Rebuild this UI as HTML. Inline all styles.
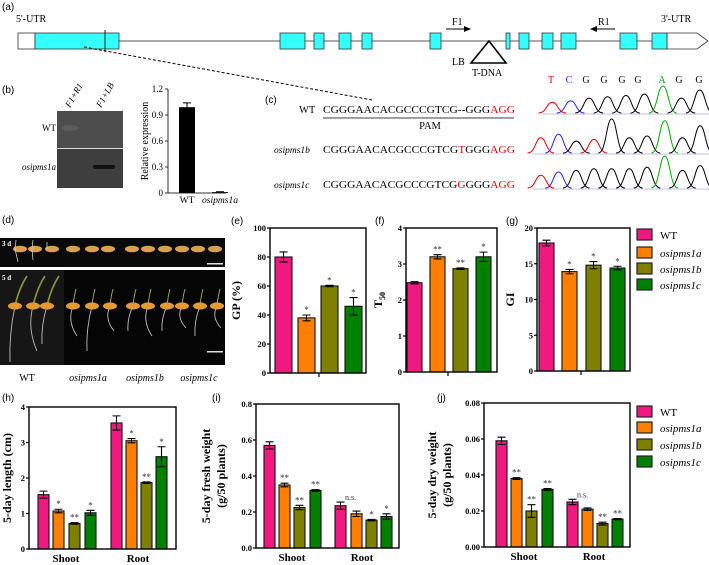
<!DOCTYPE html>
<html><head><meta charset="utf-8"><style>
body{margin:0;background:#fff;}
svg{display:block;font-family:"Liberation Serif",serif;}
.tk{font-size:8.5px;font-weight:bold;}
.lab{font-family:"Liberation Sans",sans-serif;font-size:10px;}
.it{font-style:italic;}
</style></head><body>
<svg id="fig" width="709" height="565" viewBox="0 0 709 565" xmlns="http://www.w3.org/2000/svg">
<!-- (a) gene structure -->
<g>
<text class="lab" x="2" y="10">(a)</text>
<text x="16" y="22" font-size="10">5'-UTR</text>
<text x="661" y="22" font-size="10">3'-UTR</text>
<line x1="18" y1="41" x2="690" y2="41" stroke="#555" stroke-width="1"/>
<rect x="18" y="33" width="17" height="16" fill="#fff" stroke="#333" stroke-width="0.8"/>
<rect x="35" y="33" width="84" height="16" fill="#33ffff" stroke="#333" stroke-width="0.8"/>
<line x1="105" y1="30" x2="105" y2="52" stroke="#222"/>
<g id="exons" fill="#33ffff" stroke="#333" stroke-width="0.8"></g>
<path d="M667 33 L697 33 L708 41 L697 49 L667 49 Z" fill="#fff" stroke="#333" stroke-width="0.8"/>
<rect x="652" y="33" width="15" height="16" fill="#33ffff" stroke="#333" stroke-width="0.8"/>
<text x="452" y="25" font-size="10">F1</text>
<path d="M446 29 L466 29" stroke="#000"/><path d="M464 26 L471 29 L464 32 Z" fill="#000"/>
<text x="598" y="25" font-size="10">R1</text>
<path d="M595 29 L615 29" stroke="#000"/><path d="M597 26 L590 29 L597 32 Z" fill="#000"/>
<path d="M489 41 L471 63 L506 63 Z" fill="#fff" stroke="#000" stroke-width="1.6"/>
<text x="452" y="65" font-size="10">LB</text>
<text x="472" y="76" font-size="10">T-DNA</text>
<line x1="84" y1="47" x2="372" y2="100" stroke="#000" stroke-dasharray="3,2"/>
</g>
<!-- (b) gel and expression -->
<g>
<text class="lab" x="2" y="93">(b)</text>
<rect x="57" y="111" width="66" height="37" fill="#4d4d4d"/>
<rect x="57" y="149" width="66" height="39" fill="#3e3e3e"/>
<line x1="57" y1="148.5" x2="123" y2="148.5" stroke="#ddd" stroke-width="1"/>
<ellipse cx="70" cy="128" rx="9" ry="3" fill="#5a5a5a"/>
<rect x="93" y="165" width="22" height="4" rx="2" fill="#111"/>
<text x="0" y="0" font-size="9" class="it" transform="translate(70,108) rotate(-60)">F1+R1</text>
<text x="0" y="0" font-size="9" class="it" transform="translate(101,108) rotate(-60)">F1+LB</text>
<text x="56" y="131" font-size="9" text-anchor="end">WT</text>
<text x="56" y="170" font-size="9" text-anchor="end" class="it">osipms1a</text>
</g>
<g id="chartB"></g>
<!-- (c) sequences -->
<g font-size="10.5">
<text class="lab" x="265" y="103">(c)</text>
<text x="299" y="113">WT</text>
<text x="323" y="113" textLength="192" lengthAdjust="spacingAndGlyphs">CGGGAACACGCCCGTCG--GGG<tspan fill="#e00">AGG</tspan></text>
<line x1="323" y1="118" x2="514" y2="118" stroke="#666" stroke-width="1.2"/>
<text x="430" y="129" text-anchor="middle">PAM</text>
<text x="274" y="153" font-size="9.5" class="it">osipms1b</text>
<text x="323" y="153" textLength="192" lengthAdjust="spacingAndGlyphs">CGGGAACACGCCCGTCG<tspan fill="#e00">T</tspan>GGG<tspan fill="#e00">AGG</tspan></text>
<text x="274" y="188" font-size="9.5" class="it">osipms1c</text>
<text x="323" y="188" textLength="192" lengthAdjust="spacingAndGlyphs">CGGGAACACGCCCGTCG<tspan fill="#e00">G</tspan>GGG<tspan fill="#e00">AGG</tspan></text>
<g id="chromo"></g>
</g>
<!-- (d) photo -->
<g>
<text class="lab" x="2" y="223">(d)</text>
<rect x="0" y="238" width="225" height="29" fill="#0a0a0a"/>
<rect x="0" y="270" width="225" height="95" fill="#050505"/>
<rect x="0" y="270" width="64" height="95" fill="#161616"/>
<text x="2" y="246" font-size="7" fill="#fff" font-weight="bold">3 d</text>
<text x="2" y="280" font-size="7" fill="#fff" font-weight="bold">5 d</text>
<g id="seeds"></g>
<rect x="207" y="263" width="16" height="1.5" fill="#ddd"/>
<rect x="207" y="351" width="16" height="1.5" fill="#ddd"/>
<text x="27" y="381" font-size="10" text-anchor="middle">WT</text>
<text x="88" y="381" font-size="10" text-anchor="middle" class="it">osipms1a</text>
<text x="145" y="381" font-size="10" text-anchor="middle" class="it">osipms1b</text>
<text x="199" y="381" font-size="10" text-anchor="middle" class="it">osipms1c</text>
</g>
<g id="charts"></g>
<g id="legends"></g>
</svg>
<script>
var NS="http://www.w3.org/2000/svg";
function mk(tag,attrs,parent,txt){var e=document.createElementNS(NS,tag);for(var k in attrs)e.setAttribute(k,attrs[k]);if(txt!==undefined)e.textContent=txt;parent.appendChild(e);return e;}
var COLORS=["#f0197f","#ff8000","#7f7f00","#008000"];
var genotypes=["WT","osipms1a","osipms1b","osipms1c"];

// exons (gene model)
var exonStarts=[280,314,339,362,430,506,519,542,561,620];
var exonEnds=[305,324,351,372,441,510,529,553,576,637];
var exG=document.getElementById("exons");
for(var i=0;i<exonStarts.length;i++){var r=mk("rect",{x:exonStarts[i],y:33,width:exonEnds[i]-exonStarts[i],height:16},exG);

}

// (b) relative expression
var bCats=["WT","osipms1a"];
var bVals=[0.99,0.01];
var bErr=[0.05,0.005];
var bTicks=[0,0.3,0.6,0.9,1.2];
(function(){
 var g=document.getElementById("chartB");
 var x0=168,x1=226,y0=193,yt=89,max=1.2;
 function Y(v){return y0-v/max*(y0-yt);}
 mk("line",{x1:x0,y1:yt,x2:x0,y2:y0,stroke:"#333"},g);
 mk("line",{x1:x0,y1:y0,x2:x1,y2:y0,stroke:"#333"},g);
 bTicks.forEach(function(t){mk("line",{x1:x0-3,y1:Y(t),x2:x0,y2:Y(t),stroke:"#333"},g);
  var tx=mk("text",{x:x0-5,y:Y(t)+3,"font-size":9,"text-anchor":"end"},g,String(t));
  
  });
 var cx=[187,220];
 bCats.forEach(function(c,i){
  var b=mk("rect",{x:cx[i]-8,y:Y(bVals[i]),width:16,height:y0-Y(bVals[i]),fill:"#000"},g);
  
  
  mk("path",{d:"M"+cx[i]+" "+Y(bVals[i]+bErr[i])+"V"+Y(bVals[i])+"M"+(cx[i]-4)+" "+Y(bVals[i]+bErr[i])+"H"+(cx[i]+4),stroke:"#000"},g);
  var l=mk("text",{x:cx[i],y:203,"font-size":9.5,"text-anchor":"middle","font-style":i?"italic":"normal"},g,c);
  
  
 });
 var yl=mk("text",{transform:"translate(148,141) rotate(-90)","font-size":10,"text-anchor":"middle"},g,"Relative expression");
 
 
})();

// chromatograms
var chromoBases=[["T","C","G","G","G","G","A","G","G"],["T","C","G","T","G","G","G","A","G","G"],["T","C","G","G","G","G","G","A","G","G"]];
var chromoHeights=[[0.4,0.45,0.55,0.6,0.65,0.7,1,0.55,0.85],[0.45,0.55,0.35,0.4,1,0.45,0.5,0.95,0.45,0.8],[0.4,0.5,0.55,0.6,0.6,0.6,0.65,1,0.55,0.7]];
(function(){
 var g=document.getElementById("chromo");
 var bc={T:"#e00",C:"#22f",G:"#000",A:"#0a0"};
 var letX=[551,569,586,604,622,638,662,679,699];
 chromoBases[0].forEach(function(b,i){var t=mk("text",{x:letX[i],y:83,"font-size":10,"text-anchor":"middle",fill:bc[b]},g,b);
  
  });
 var rows=[[113,27,543],[153,34,532],[188,32,532]];
 chromoBases.forEach(function(seq,r){
  var base=rows[r][0],h=rows[r][1],x0=rows[r][2],x1=709,n=seq.length,w=(x1-x0)/n;
  mk("line",{x1:x0,y1:base+1,x2:x1,y2:base+1,stroke:"#99c",opacity:0.6},g);
  seq.forEach(function(b,i){var cx=x0+w*(i+0.5),ph=chromoHeights[r][i]*h;
   var p=mk("path",{d:"M"+(cx-w*0.75)+" "+base+" C"+(cx-w*0.3)+" "+base+" "+(cx-w*0.3)+" "+(base-ph)+" "+cx+" "+(base-ph)+" C"+(cx+w*0.3)+" "+(base-ph)+" "+(cx+w*0.3)+" "+base+" "+(cx+w*0.75)+" "+base,fill:"none",stroke:bc[b],"stroke-width":1},g);
   
   });
 });
})();

// seeds photo
(function(){
 var g=document.getElementById("seeds");
 var s3=[20,35,52,73,92,108,132,148,165,182,198,215];
 s3.forEach(function(x){mk("ellipse",{cx:x,cy:249,rx:7,ry:3.3,fill:"#d9a050"},g);});
 mk("path",{d:"M15 249 L18 262 M15 249 L16 240 M32 249 L33 260 M32 249 L33 240 M47 249 L47 242",stroke:"#ccc","stroke-width":0.8},g);
 var s5=[15,33,47,73,92,110,133,148,167,182,200,217];
 var rootLen=[56,45,38,30,45,25,25,30,25,22,30,22];
 s5.forEach(function(x,i){
  mk("path",{d:"M"+x+" 306 q-6 "+rootLen[i]*0.5+" "+(i%2?4:-5)+" "+rootLen[i],stroke:"#bbb","stroke-width":0.9,fill:"none"},g);
  if(i<3)mk("path",{d:"M"+x+" 306 q4 -18 12 -30",stroke:"#8a9a30","stroke-width":1.6,fill:"none"},g);
  else mk("path",{d:"M"+x+" 306 q1 -10 3 -17",stroke:"#9aa060","stroke-width":1,fill:"none"},g);
  mk("ellipse",{cx:x,cy:306,rx:7,ry:3.6,fill:"#e39a35"},g);
 });
})();

// ===== bar charts =====
// (e) GP
var eVals=[80,38,60,46];
var eErr=[3.5,2,0.5,6];
var eSig=["","*","*","*"];
var eTicks=[0,20,40,60,80,100];
// (f) T50
var fVals=[2.48,3.2,2.87,3.2];
var fErr=[0.03,0.06,0.02,0.13];
var fSig=["","**","**","*"];
var fTicks=[0,1,2,3,4];
// (g) GI
var gVals=[17.9,13.9,14.8,14.4];
var gErr=[0.4,0.3,0.5,0.25];
var gSig=["","*","*","*"];
var gTicks=[0,5,10,15,20];
// (h) length
var groups=["Shoot","Root"];
var hShoot=[1.53,1.07,0.72,1.02];
var hRoot=[3.55,3.05,1.87,2.6];
var hShootErr=[0.1,0.05,0.02,0.07];
var hRootErr=[0.2,0.06,0.02,0.28];
var hShootSig=["","*","**","*"];
var hRootSig=["","*","**","*"];
var hTicks=[0,1,2,3,4];
// (i) fresh weight
var iShoot=[0.57,0.35,0.225,0.32];
var iRoot=[0.235,0.19,0.155,0.175];
var iShootErr=[0.02,0.01,0.012,0.004];
var iRootErr=[0.02,0.015,0.004,0.015];
var iShootSig=["","**","**","**"];
var iRootSig=["n.s.","","*","*"];
var iTicks=[0,0.2,0.4,0.6,0.8];
var iTickLabels=["0.0","0.2","0.4","0.6","0.8"];
// (j) dry weight
var jShoot=[0.059,0.038,0.02,0.032];
var jRoot=[0.025,0.021,0.013,0.0155];
var jShootErr=[0.002,0.0005,0.0035,0.0005];
var jRootErr=[0.0015,0.0007,0.0008,0.0003];
var jShootSig=["","**","**","**"];
var jRootSig=["n.s.","","**","**"];
var jTicks=[0,0.02,0.04,0.06,0.08];
var jTickLabels=["0.00","0.02","0.04","0.06","0.08"];

function chart(o){
 var g=mk("g",{},document.getElementById("charts"));
 
 
 var max=o.ticks[o.ticks.length-1];
 function Y(v){return o.y0-v/max*(o.y0-o.yt);}
 var lt=mk("text",{x:o.lx,y:o.ly,"class":"lab"},g,o.label);
 
 
 o.ticks.forEach(function(t,i){mk("line",{x1:o.x0-3,y1:Y(t),x2:o.x0,y2:Y(t),stroke:"#000","stroke-width":1.2},g);
  var tx=mk("text",{x:o.x0-4,y:Y(t)+3,"class":"tk","text-anchor":"end"},g,o.tickLabels?o.tickLabels[i]:String(t));
  
  });
 o.series.forEach(function(s,gi){
  s.vals.forEach(function(v,k){
   var x=s.xs[k],w=o.bw,cx=x+w/2;
   var b=mk("rect",{x:x,y:Y(v),width:w,height:o.y0-Y(v),fill:COLORS[k],stroke:"#111","stroke-width":1.1},g);
   
   
   var e=s.err[k],top=Y(v+e),bot=Y(v-e);
   mk("path",{d:"M"+cx+" "+top+"V"+bot+"M"+(cx-4)+" "+top+"H"+(cx+4)+"M"+(cx-4)+" "+bot+"H"+(cx+4),stroke:"#000","stroke-width":1.1},g);
   if(s.sig[k]){var st=mk("text",{x:s.sig[k]=="n.s."?cx+10:cx,y:top-2,"font-size":s.sig[k]=="n.s."?8:9,"text-anchor":"middle",fill:"#333"},g,s.sig[k]);
    
    }
  });
  if(s.group){var gl=mk("text",{x:s.cx,y:o.y0+13,"font-size":11,"font-weight":"bold","text-anchor":"middle"},g,s.group);
   
   }
  else mk("line",{x1:s.cx,y1:o.y0,x2:s.cx,y2:o.y0+4,stroke:"#000","stroke-width":1.2},g);
 });
 var fr=mk("rect",{x:o.x0,y:o.yt,width:o.x1-o.x0,height:o.y0-o.yt,fill:"none",stroke:"#000","stroke-width":1.4},g);
 
 
 o.ylab.forEach(function(t,i){var yl=mk("text",{transform:"translate("+o.ylx[i]+","+((o.y0+o.yt)/2)+") rotate(-90)","font-size":o.yfs||12,"font-weight":"bold","text-anchor":"middle"},g);
  yl.innerHTML=t;
  
  });
}
chart({name:"gp-chart",label:"(e)",lx:231,ly:224,x0:270,x1:366,y0:373,yt:228,bw:17,ticks:eTicks,
 series:[{vals:eVals,err:eErr,sig:eSig,xs:[275,298,321,345],cx:319}],ylab:["GP (%)"],ylx:[240]});
chart({name:"t50-chart",label:"(f)",lx:375,ly:224,x0:406,x1:497,y0:372,yt:228,bw:15,ticks:fTicks,
 series:[{vals:fVals,err:fErr,sig:fSig,xs:[407,430,453,476],cx:448}],ylab:["T<tspan font-size='8' dy='3'>50</tspan>"],ylx:[382]});
chart({name:"gi-chart",label:"(g)",lx:506,ly:224,x0:537,x1:630,y0:371,yt:228,bw:15,ticks:gTicks,
 series:[{vals:gVals,err:gErr,sig:gSig,xs:[539,562,586,610],cx:581}],ylab:["GI"],ylx:[514]});
chart({name:"length-chart",label:"(h)",lx:2,ly:401,x0:29,x1:176,y0:549,yt:407,bw:11,ticks:hTicks,
 series:[{group:"Shoot",vals:hShoot,err:hShootErr,sig:hShootSig,xs:[38,53,69,85],cx:66},{group:"Root",vals:hRoot,err:hRootErr,sig:hRootSig,xs:[111,126,141,156],cx:138}],ylab:["5-day length (cm)"],ylx:[11]});
chart({name:"fresh-weight-chart",label:"(i)",lx:212,ly:401,x0:256,x1:399,y0:548,yt:404,bw:11,ticks:iTicks,tickLabels:iTickLabels,
 series:[{group:"Shoot",vals:iShoot,err:iShootErr,sig:iShootSig,xs:[264,279,294,310],cx:292},{group:"Root",vals:iRoot,err:iRootErr,sig:iRootSig,xs:[335,351,366,381],cx:362}],ylab:["5-day fresh weight","(g/50 plants)"],ylx:[210,225]});
chart({name:"dry-weight-chart",label:"(j)",lx:437,ly:401,x0:484,x1:630,y0:547,yt:403,bw:11,ticks:jTicks,tickLabels:jTickLabels,
 series:[{group:"Shoot",vals:jShoot,err:jShootErr,sig:jShootSig,xs:[496,511,526,542],cx:524},{group:"Root",vals:jRoot,err:jRootErr,sig:jRootSig,xs:[567,582,597,612],cx:594}],ylab:["5-day dry weight","(g/50 plants)"],ylx:[436,451]});

// legends
var legendYs=[[235,253,269,285],[412,428,445,462]];
legendYs.forEach(function(ys,li){
 var g=mk("g",{},document.getElementById("legends"));
 
 
 genotypes.forEach(function(n,k){
  var r=mk("rect",{x:637,y:ys[k]-6,width:15,height:11,fill:COLORS[k],stroke:"#222","stroke-width":1.2},g);
  
  
  var t=mk("text",{x:660,y:ys[k]+4,"font-size":11,"font-style":k?"italic":"normal"},g,n);
  
  
 });
});
</script>
</body></html>
